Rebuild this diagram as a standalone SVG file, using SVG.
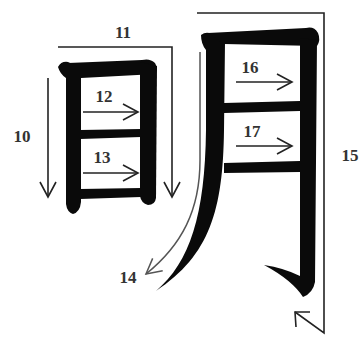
<svg xmlns="http://www.w3.org/2000/svg" width="359" height="338" viewBox="0 0 359 338">
<defs>
<style>
.stroke{fill:#0a0a0a;}
.ln{fill:none;stroke:#222;stroke-width:1.6;}
.gr{fill:none;stroke:#555;stroke-width:1.5;}
.lbl{font-family:"Liberation Serif",serif;font-weight:bold;font-size:17px;fill:#333;text-anchor:middle;}
</style>
<marker id="ah" markerUnits="userSpaceOnUse" markerWidth="24" markerHeight="24" viewBox="-18 -12 24 24" refX="0" refY="0" orient="auto">
<path d="M-15,-8 L0,0 L-15,8" fill="none" stroke="#222" stroke-width="1.6"/>
</marker>
<marker id="ahg" markerUnits="userSpaceOnUse" markerWidth="24" markerHeight="24" viewBox="-18 -12 24 24" refX="0" refY="0" orient="auto">
<path d="M-15,-8 L0,0 L-15,8" fill="none" stroke="#555" stroke-width="1.5"/>
</marker>
</defs>
<rect width="359" height="338" fill="#fff"/>
<g id="char-ri">
<path class="stroke" d="M58,67 Q61,61 68,62 L81,68 L81,202 Q80,212 73,214 Q67,212 66,204 L66,78 Q60,74 58,67 Z"/>
<path class="stroke" d="M68,63 L142,60 Q150,58 155,63 Q158,68 156,74 L81,78 Z"/>
<path class="stroke" d="M140,62 L157,66 L156,198 Q155,205 148,205 Q141,203 140,196 Z"/>
<path class="stroke" d="M80,130 L141,129 L141,137 L80,139 Z"/>
<path class="stroke" d="M80,189 L141,188 L141,197 L80,199 Z"/>
</g>
<g id="char-yue">
<path class="stroke" d="M201,35 Q206,31 212,34 L225,42 L224,130 C223,210 210,255 156,291 C190,262 205,215 206,130 L206,50 Q201,44 201,35 Z"/>
<path class="stroke" d="M208,33 L306,28 Q314,26 318,33 Q321,40 317,46 L224,44 Z"/>
<path class="stroke" d="M300,38 L317,40 L315,282 Q313,293 303,297 Q292,280 264,265 Q284,268 300,276 Z"/>
<path class="stroke" d="M224,103 L300,101 L300,111 L224,113 Z"/>
<path class="stroke" d="M224,163 L300,161 L300,172 L224,173 Z"/>
</g>
<g id="connectors">
<line id="a10" class="ln" x1="48" y1="78" x2="48" y2="197" marker-end="url(#ah)"/>
<polyline id="a11" class="ln" points="58,47 172,47 172,197" marker-end="url(#ah)"/>
<line id="a12" class="ln" x1="83" y1="112" x2="138" y2="112" marker-end="url(#ah)"/>
<line id="a13" class="ln" x1="83" y1="173" x2="138" y2="173" marker-end="url(#ah)"/>
<path id="a14" class="gr" d="M200,52 L200,160 C200,210 182,245 146,274" marker-end="url(#ahg)"/>
<polyline id="a15" class="ln" points="197,13 324,13 324,333 295,312"/>
<polyline class="ln" points="310,312 295,312 296,327"/>
<line id="a16" class="ln" x1="236" y1="82" x2="292" y2="82" marker-end="url(#ah)"/>
<line id="a17" class="ln" x1="236" y1="146" x2="292" y2="146" marker-end="url(#ah)"/>
</g>
<g id="labels">
<text class="lbl" x="22" y="142">10</text>
<text class="lbl" x="123" y="38">11</text>
<text class="lbl" x="104" y="102">12</text>
<text class="lbl" x="102" y="163">13</text>
<text class="lbl" x="128" y="283">14</text>
<text class="lbl" x="350" y="161">15</text>
<text class="lbl" x="250" y="73">16</text>
<text class="lbl" x="252" y="137">17</text>
</g>
</svg>
